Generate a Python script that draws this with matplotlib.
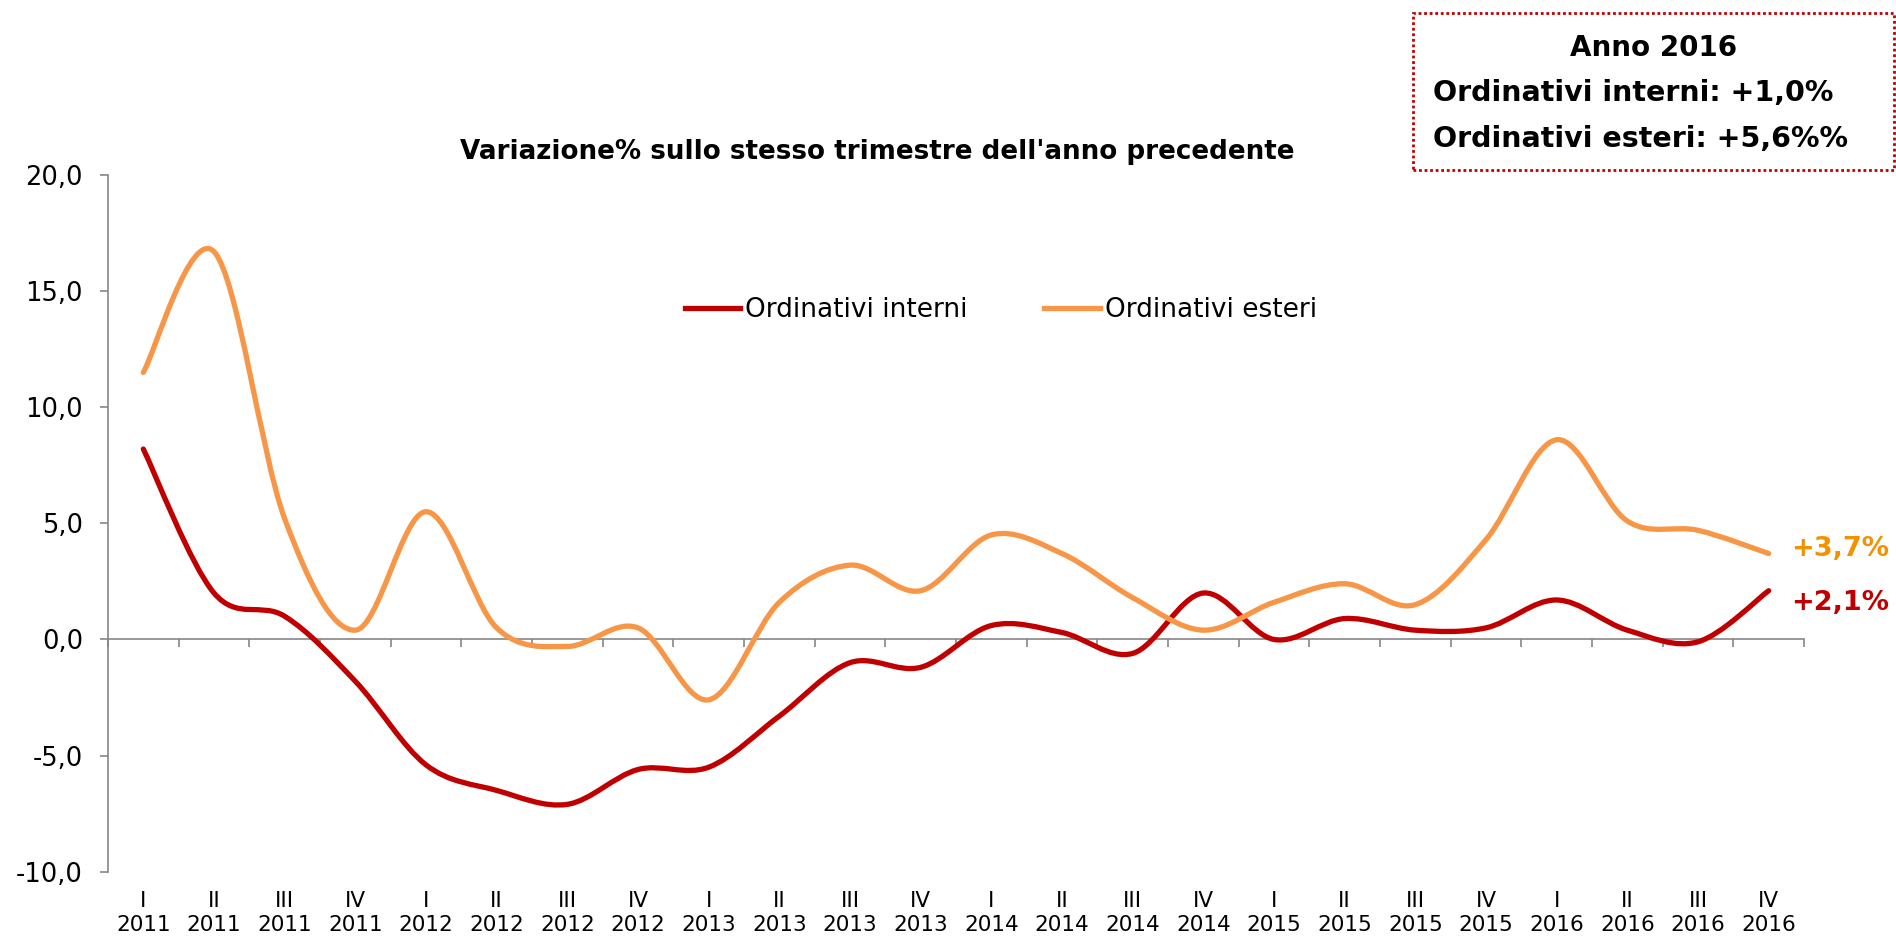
import numpy as np
import matplotlib
matplotlib.use('Agg')
import matplotlib.pyplot as plt
from matplotlib.path import Path
from matplotlib.patches import PathPatch, Rectangle
from matplotlib.lines import Line2D
import matplotlib.transforms as mtransforms

# trimestri 2011-2016
quarters = ["I", "II", "III", "IV"] * 6
years = [str(y) for y in range(2011, 2017) for _ in range(4)]

interni = [8.2, 2.0, 1.0, -1.8, -5.4, -6.5, -7.1, -5.6,
           -5.5, -3.3, -1.0, -1.2, 0.6, 0.3, -0.6, 2.0,
           0.0, 0.9, 0.4, 0.5, 1.7, 0.4, -0.1, 2.1]
esteri = [11.5, 16.7, 5.2, 0.4, 5.5, 0.5, -0.3, 0.5,
          -2.6, 1.6, 3.2, 2.1, 4.5, 3.7, 1.8, 0.4,
          1.6, 2.4, 1.5, 4.3, 8.6, 5.1, 4.7, 3.7]

yticks = [-10, -5, 0, 5, 10, 15, 20]

RED = "#C00000"
ORANGE = "#F79646"
ORANGE_LBL = "#F39200"
GREY = "#868686"


def smooth_path(x, y):
    # curva liscia tipo Excel (Bezier / Catmull-Rom)
    pts = np.column_stack([x, y]).astype(float)
    n = len(pts)
    verts = [pts[0]]
    codes = [Path.MOVETO]
    for i in range(n - 1):
        p0 = pts[i - 1] if i > 0 else pts[i]
        p1 = pts[i]
        p2 = pts[i + 1]
        p3 = pts[i + 2] if i + 2 < n else pts[i + 1]
        c1 = p1 + (p2 - p0) / 6.0
        c2 = p2 - (p3 - p1) / 6.0
        verts += [c1, c2, p2]
        codes += [Path.CURVE4] * 3
    return Path(verts, codes)


fig = plt.figure(figsize=(18.96, 9.36), dpi=100)
ax = fig.add_axes([108 / 1896, 1 - 871.7 / 936, (1804 - 108) / 1896, (871.7 - 175) / 936])

x = np.arange(len(interni))
for vals, col in [(interni, RED), (esteri, ORANGE)]:
    patch = PathPatch(smooth_path(x, vals), fill=False, edgecolor=col,
                      lw=3.8, capstyle='round', joinstyle='round', zorder=3)
    ax.add_patch(patch)

ax.set_xlim(-0.5, len(interni) - 0.5)
ax.set_ylim(-10, 20)

# assi
for s in ["top", "right"]:
    ax.spines[s].set_visible(False)
ax.spines["left"].set_color(GREY)
ax.spines["left"].set_linewidth(1.2)
ax.spines["bottom"].set_position(("data", 0))
ax.spines["bottom"].set_color(GREY)
ax.spines["bottom"].set_linewidth(1.2)

ax.set_yticks(yticks)
ax.set_yticklabels([f"{v:.1f}".replace(".", ",") for v in yticks], fontsize=18.5)
ax.tick_params(axis="y", length=6, width=1.2, color=GREY, pad=12)

ax.set_xticks(np.arange(-0.5, len(interni)), minor=True)
ax.set_xticks([])
ax.tick_params(axis="x", which="minor", length=5.5, width=1.2, color=GREY, direction="out")

trans = mtransforms.blended_transform_factory(ax.transData, fig.transFigure)
for i, (q, yr) in enumerate(zip(quarters, years)):
    ax.text(i, 1 - 913 / 936, f"{q}\n{yr}", transform=trans, ha="center", va="center",
            fontsize=15.5, linespacing=1.3)

# etichette finali
ax.annotate("+3,7%", xy=(x[-1], esteri[-1]), xytext=(16, 3), textcoords="offset points",
            color=ORANGE_LBL, fontsize=19.5, fontweight="bold", va="center", ha="left")
ax.annotate("+2,1%", xy=(x[-1], interni[-1]), xytext=(16, -9), textcoords="offset points",
            color=RED, fontsize=19.5, fontweight="bold", va="center", ha="left")

fig.text(877 / 1896, 1 - 152 / 936, "Variazione% sullo stesso trimestre dell'anno precedente",
         ha="center", va="center", fontsize=18.8, fontweight="bold")

handles = [Line2D([], [], color=RED, lw=3.8), Line2D([], [], color=ORANGE, lw=3.8)]
fig.legend(handles, ["Ordinativi interni", "Ordinativi esteri"], loc="center",
           bbox_to_anchor=(1001 / 1896, 1 - 310 / 936), ncol=2, frameon=False,
           fontsize=19, handlelength=2.1, handletextpad=0.2, columnspacing=2.9)

# riquadro anno 2016
box = Rectangle((1413 / 1896, 1 - 170 / 936), 481 / 1896, 157 / 936, transform=fig.transFigure,
                fill=False, edgecolor=RED, lw=2, linestyle=(0, (1, 1)))
fig.patches.append(box)
fig.text(1654 / 1896, 1 - 48 / 936, "Anno 2016", ha="center", va="center",
         fontsize=20, fontweight="bold")
fig.text(1433 / 1896, 1 - 93 / 936, "Ordinativi interni: +1,0%", ha="left", va="center",
         fontsize=20.5, fontweight="bold")
fig.text(1433 / 1896, 1 - 139 / 936, "Ordinativi esteri: +5,6%%", ha="left", va="center",
         fontsize=20.5, fontweight="bold")

plt.savefig("out.png", dpi=100)
